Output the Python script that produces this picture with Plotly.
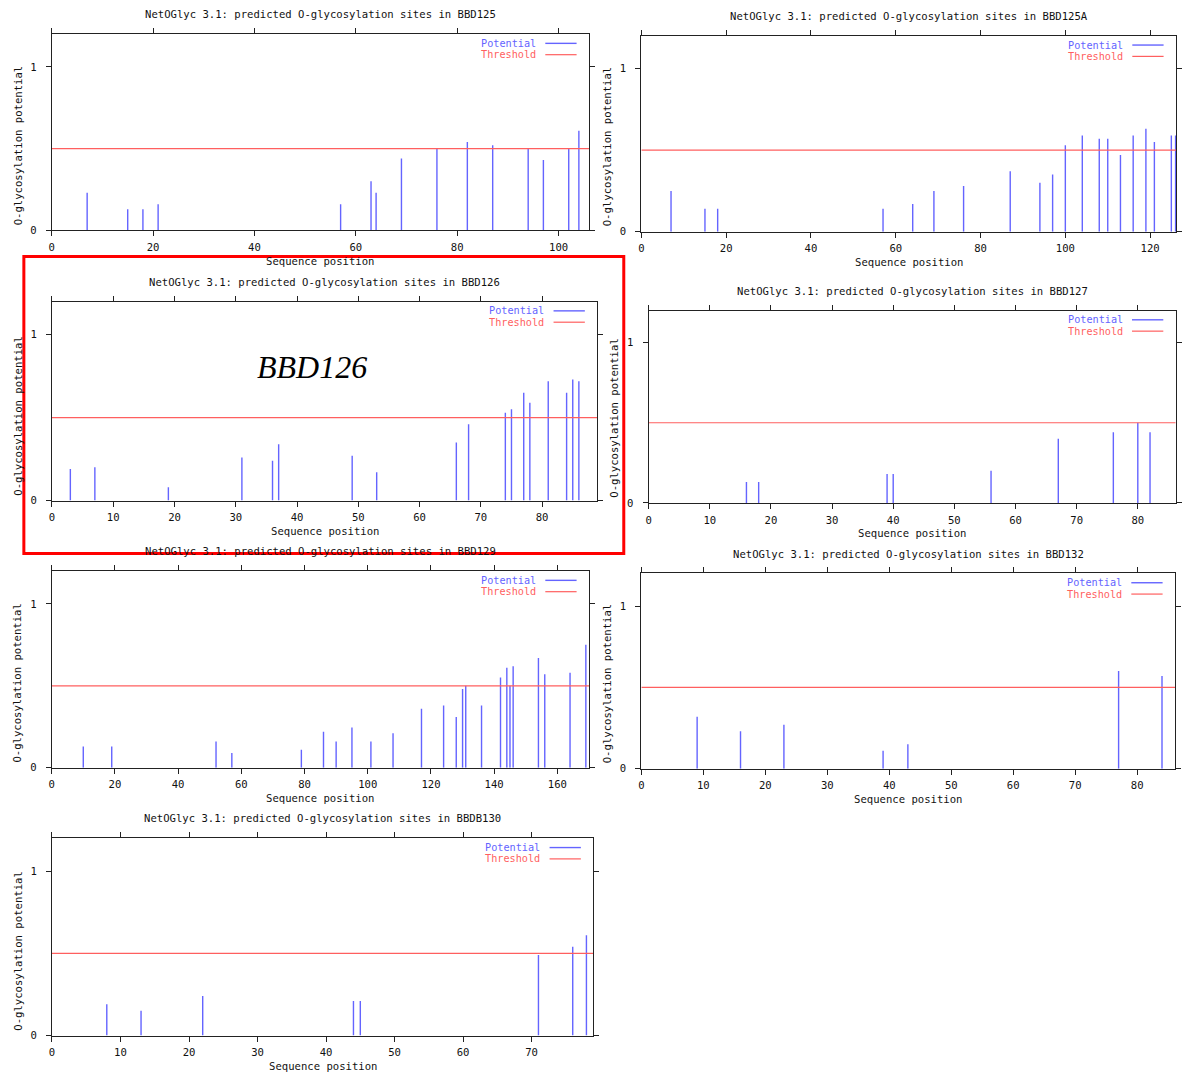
import plotly.graph_objects as go

W, H = 1182, 1079

# ---------------- data ----------------
protein_names = ["BBD125", "BBD125A", "BBD126", "BBD127", "BBD129", "BBD132", "BBDB130"]

bbd125_pos = [7, 15, 18, 21, 57, 63, 64, 69, 76, 82, 87, 94, 97, 102, 104]
bbd125_val = [0.23, 0.13, 0.13, 0.16, 0.16, 0.30, 0.23, 0.44, 0.50, 0.54, 0.52, 0.50, 0.43, 0.50, 0.61]

bbd125a_pos = [7, 15, 18, 57, 64, 69, 76, 87, 94, 97, 100, 104, 108, 110, 113, 116, 119, 121, 125, 126]
bbd125a_val = [0.25, 0.14, 0.14, 0.14, 0.17, 0.25, 0.28, 0.37, 0.30, 0.35, 0.53, 0.59, 0.57, 0.57,
               0.47, 0.59, 0.63, 0.55, 0.59, 0.59]

bbd126_pos = [3, 7, 19, 31, 36, 37, 49, 53, 66, 68, 74, 75, 77, 78, 81, 84, 85, 86]
bbd126_val = [0.19, 0.20, 0.08, 0.26, 0.24, 0.34, 0.27, 0.17, 0.35, 0.46, 0.53, 0.55, 0.65, 0.59,
              0.72, 0.65, 0.73, 0.72]

bbd127_pos = [16, 18, 39, 40, 56, 67, 76, 80, 82]
bbd127_val = [0.13, 0.13, 0.18, 0.18, 0.20, 0.40, 0.44, 0.50, 0.44]

bbd129_pos = [10, 19, 52, 57, 79, 86, 90, 95, 101, 108, 117, 124, 128, 130, 131, 136, 142, 144,
              145, 146, 154, 156, 164, 169]
bbd129_val = [0.13, 0.13, 0.16, 0.09, 0.11, 0.22, 0.16, 0.245, 0.16, 0.21, 0.36, 0.38, 0.31, 0.48,
              0.50, 0.38, 0.55, 0.61, 0.50, 0.62, 0.67, 0.57, 0.58, 0.75]

bbd132_pos = [9, 16, 23, 39, 43, 77, 84]
bbd132_val = [0.32, 0.23, 0.27, 0.11, 0.15, 0.60, 0.57]

bbdb130_pos = [8, 13, 22, 44, 45, 71, 76, 78]
bbdb130_val = [0.19, 0.15, 0.24, 0.21, 0.21, 0.49, 0.54, 0.61]

seq_length = [106, 126.1, 89, 86.2, 170, 86.1, 79]
x_dtick = [20, 20, 10, 10, 20, 10, 10]
threshold = 0.5
y_max = 1.2

positions = [bbd125_pos, bbd125a_pos, bbd126_pos, bbd127_pos, bbd129_pos, bbd132_pos, bbdb130_pos]
values = [bbd125_val, bbd125a_val, bbd126_val, bbd127_val, bbd129_val, bbd132_val, bbdb130_val]

# ---------------- layout geometry (pixels: left, right, top, bottom) ----------------
boxes = [
    (49.0, 590.0, 34.3, 231.7),
    (642.7, 1181.0, 36.0, 233.0),
    (49.3, 598.3, 303.3, 503.3),
    (650.0, 1180.7, 312.3, 505.7),
    (49.0, 590.0, 574.3, 772.0),
    (642.7, 1180.0, 576.7, 773.0),
    (49.3, 594.3, 843.0, 1041.3),
]

FONT = "DejaVu Sans Mono"
FS = 10.6
LFS = 10.2
BLUE = "rgb(100,100,255)"
RED = "rgb(255,95,95)"
FRAME = "#222222"


def px(x):
    return x / W


def py(y):
    return 1 - y / H


fig = go.Figure()
annotations = []
shapes = []

for i, name in enumerate(protein_names):
    n = "" if i == 0 else str(i + 1)
    l, r, t, b = boxes[i]
    xs, ys = [], []
    for p, v in zip(positions[i], values[i]):
        xs += [p, p, None]
        ys += [0, v, None]
    fig.add_trace(go.Scatter(x=xs, y=ys, mode="lines", line=dict(color=BLUE, width=1.4),
                             xaxis="x" + n, yaxis="y" + n, showlegend=False, hoverinfo="skip"))
    fig.add_trace(go.Scatter(x=[0, seq_length[i]], y=[threshold, threshold], mode="lines",
                             line=dict(color=RED, width=1.2),
                             xaxis="x" + n, yaxis="y" + n, showlegend=False, hoverinfo="skip"))
    axcommon = dict(showline=True, linecolor=FRAME, linewidth=1, mirror="ticks",
                    ticks="outside", ticklen=5, tickcolor=FRAME, tickwidth=1,
                    showgrid=False, zeroline=False,
                    tickfont=dict(family=FONT, size=FS, color="#111111"))
    fig.update_layout({
        "xaxis" + n: dict(domain=[px(l), px(r)], range=[0, seq_length[i]], anchor="y" + n,
                          tick0=0, dtick=x_dtick[i], ticklabelstandoff=2, **axcommon),
        "yaxis" + n: dict(domain=[py(b), py(t)], range=[0, y_max], anchor="x" + n,
                          tickvals=[0, 1], ticklabelstandoff=7, **axcommon),
    })
    cx = (l + r) / 2
    annotations.append(dict(text="NetOGlyc 3.1: predicted O-glycosylation sites in " + name,
                            x=px(cx), y=py(t - 20), xref="paper", yref="paper",
                            xanchor="center", yanchor="middle", showarrow=False,
                            font=dict(family=FONT, size=FS, color="#111111")))
    annotations.append(dict(text="Sequence position", x=px(cx), y=py(b + 30.3),
                            xref="paper", yref="paper", xanchor="center", yanchor="middle",
                            showarrow=False, font=dict(family=FONT, size=FS, color="#111111")))
    annotations.append(dict(text="O-glycosylation potential", x=px(l - 34.5), y=py(b - 85),
                            xref="paper", yref="paper", xanchor="center", yanchor="middle",
                            textangle=-90, showarrow=False,
                            font=dict(family=FONT, size=FS, color="#111111")))
    for k, (lab, col) in enumerate([("Potential", BLUE), ("Threshold", RED)]):
        yy = t + 9.3 + 11.4 * k
        annotations.append(dict(text=lab, x=px(r - 51.5), y=py(yy), xref="paper", yref="paper",
                                xanchor="right", yanchor="middle", showarrow=False,
                                font=dict(family=FONT, size=LFS, color=col)))
        shapes.append(dict(type="line", xref="paper", yref="paper",
                           x0=px(r - 44), x1=px(r - 12.5), y0=py(yy), y1=py(yy),
                           line=dict(color=col, width=1.4 if k == 0 else 1.2)))

# highlight box and label
shapes.append(dict(type="rect", xref="paper", yref="paper", x0=px(21), x1=px(625),
                   y0=py(556.5), y1=py(258), line=dict(color="#ff0000", width=3), layer="above"))
annotations.append(dict(text="<i>BBD126</i>", x=px(311.5), y=py(369), xref="paper", yref="paper",
                        xanchor="center", yanchor="middle", showarrow=False,
                        font=dict(family="Liberation Serif", size=32, color="#000000")))

fig.update_layout(width=W, height=H, margin=dict(l=0, r=0, t=0, b=0),
                  paper_bgcolor="white", plot_bgcolor="white",
                  annotations=annotations, shapes=shapes, showlegend=False)

fig.write_html("out.html")
